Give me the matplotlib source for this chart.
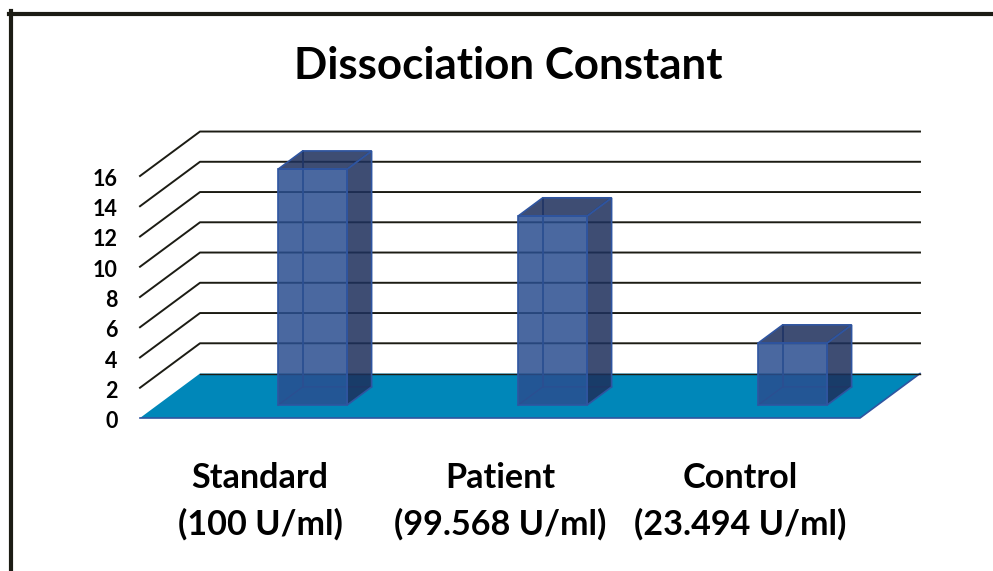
import matplotlib
matplotlib.use("Agg")
import matplotlib.pyplot as plt
from matplotlib.lines import Line2D
from matplotlib.transforms import ScaledTranslation

FIG_W = 993
FIG_H = 571

categories = ["Standard\n(100 U/ml)", "Patient\n(99.568 U/ml)", "Control\n(23.494 U/ml)"]
values = [15.6, 12.5, 4.1]
y_ticks = [0, 2, 4, 6, 8, 10, 12, 14, 16]

# depth of the fake 3d box, in data units
DEPTH_X = 0.25
DEPTH_Y = 2.94
BAR_W = 0.287
BAR_NEAR = 0.29 # bar front/back as a fraction of the floor depth
BAR_FAR = 0.70

GRID = "#1c1c14"
FLOOR = "#0087b9"
EDGE = "#2f55a0"
FRONT = (42 / 255, 78 / 255, 143 / 255, 0.85)
DARK = (30 / 255, 48 / 255, 92 / 255, 0.86)

plt.rcParams["font.family"] = ["Lato", "DejaVu Sans"]
plt.rcParams["font.weight"] = "bold"

fig = plt.figure(figsize=(FIG_W / 100, FIG_H / 100), dpi=100)
# axes is the front plane of the floor: x 140-860 px, value 0 at 418 px, 16 at 176 px
ax = fig.add_axes([140 / FIG_W, 1 - 418 / FIG_H, 720 / FIG_W, 242 / FIG_H])
ax.set_xlim(0, 3)
ax.set_ylim(0, 16)
ax.patch.set_visible(False)
for spine in ax.spines.values():
    spine.set_visible(False)


def project(x, v, d):
    """Move a point back by fraction d of the floor depth."""
    return x + d * DEPTH_X, v + d * DEPTH_Y


def face(points, color, zorder):
    xs = [p[0] for p in points]
    ys = [p[1] for p in points]
    ax.fill(xs, ys, facecolor=color, edgecolor=EDGE, linewidth=1.2, clip_on=False, zorder=zorder, joinstyle="miter")


# floor
ax.fill([0, 3, 3 + DEPTH_X, DEPTH_X], [0, 0, DEPTH_Y, DEPTH_Y], facecolor=FLOOR, clip_on=False, zorder=1)
ax.plot([0, 3, 3 + DEPTH_X], [0, 0, DEPTH_Y], color=EDGE, lw=1.2, clip_on=False, zorder=1)

# back wall grid lines with their slanted part on the side wall
for v in y_ticks[1:]:
    ax.plot([0, DEPTH_X, 3 + DEPTH_X], [v, v + DEPTH_Y, v + DEPTH_Y], color=GRID, lw=1.4, clip_on=False, zorder=2)
ax.plot([DEPTH_X, 3 + DEPTH_X], [DEPTH_Y, DEPTH_Y], color=GRID, lw=1.0, clip_on=False, zorder=2)

# bars
for i, val in enumerate(values):
    left = i + 0.503
    right = left + BAR_W
    a = project(left, 0, BAR_NEAR)
    b = project(right, 0, BAR_NEAR)
    c = project(right, val, BAR_NEAR)
    d = project(left, val, BAR_NEAR)
    e = project(left, 0, BAR_FAR)
    f = project(right, 0, BAR_FAR)
    g = project(right, val, BAR_FAR)
    h = project(left, val, BAR_FAR)
    # inner edges seen through the front face
    ax.plot([a[0], e[0], f[0]], [a[1], e[1], f[1]], color=EDGE, lw=1.0, clip_on=False, zorder=3)
    ax.plot([e[0], h[0]], [e[1], h[1]], color=EDGE, lw=1.3, clip_on=False, zorder=3)
    face([b, f, g, c], DARK, 4)
    face([d, c, g, h], DARK, 4)
    face([a, b, c, d], FRONT, 5)

ax.set_xticks([0.5, 1.5, 2.5])
ax.set_xticklabels(categories, fontsize=24.6, linespacing=1.52)
ax.set_yticks(y_ticks)
ax.set_yticklabels(y_ticks, fontsize=15.5, va="center_baseline")
ax.tick_params(axis="x", length=0, pad=32)
ax.tick_params(axis="y", length=0, pad=16)

# tick labels sit a little low in the reference
nudge = ScaledTranslation(0, -1.5 / 100, fig.dpi_scale_trans)
for label in ax.get_yticklabels():
    label.set_transform(label.get_transform() + nudge)

fig.text(508 / FIG_W, 1 - 66 / FIG_H, "Dissociation Constant", ha="center", va="center", fontsize=31.6)

# outer frame, only top and left show in the crop
fig.add_artist(Line2D([11 / FIG_W, 11 / FIG_W], [0, 1 - 11 / FIG_H], color=GRID, lw=3.0))
fig.add_artist(Line2D([9 / FIG_W, 1], [1 - 13.5 / FIG_H, 1 - 13.5 / FIG_H], color=GRID, lw=3.0))

fig.savefig("out.png", dpi=100)
